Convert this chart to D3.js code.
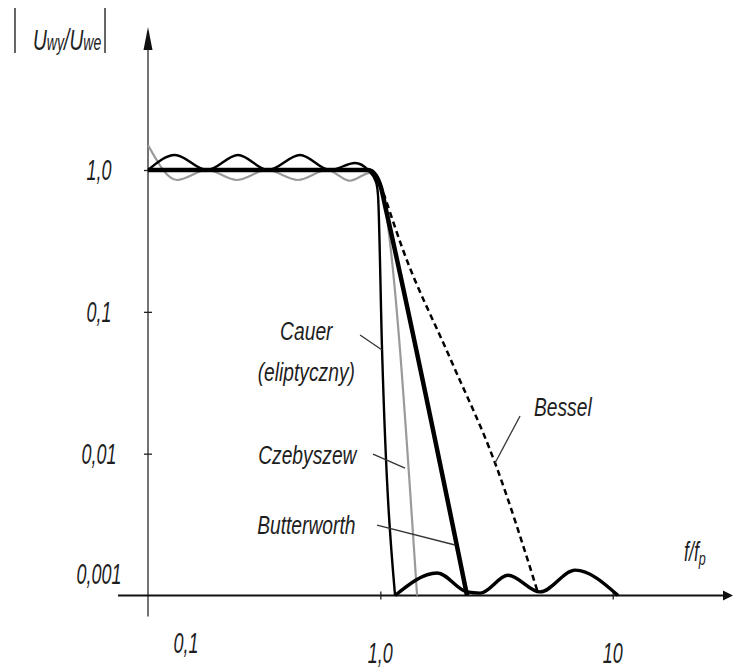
<!doctype html>
<html lang="pl">
  <head>
    <meta charset="UTF-8" />
    <title>Charakterystyki filtrów dolnoprzepustowych</title>
    <style>
      body { margin: 0; background: #fff; }
      #chart text {
        font-family: "Liberation Sans", Arial, sans-serif;
        font-style: italic;
        fill: #1e1e1e;
      }
    </style>
  </head>
  <body>
    <div id="chart"></div>

    <script src="https://cdn.jsdelivr.net/npm/d3@7"></script>
    <script>
      // axis ticks
      const xTicks = [0.1, 1, 10];
      const xTickLabels = ["0,1", "1,0", "10"];
      const yTicks = [1, 0.1, 0.01, 0.001];
      const yTickLabels = ["1,0", "0,1", "0,01", "0,001"];

      // curves as [f/fp, |Uwy/Uwe|]
      const butterworth = [[0.1, 1], [0.885, 1], [0.958, 0.907], [1.007, 0.747], [1.058, 0.522], [2.361, 0.001]];
      const bessel = [[0.1, 1], [0.903, 1], [0.977, 0.878], [1.027, 0.699], [1.252, 0.273], [1.995, 0.0472], [3.117, 0.00859], [4.774, 0.00104]];
      const czebyszew = [[0.1, 1.5], [0.1333, 0.85], [0.1795, 1], [0.2416, 0.85], [0.3253, 1], [0.4422, 0.85],
        [0.5897, 1], [0.7405, 0.84], [0.903, 0.955], [0.997, 0.823], [1.037, 0.614], [1.439, 0.001]];
      const cauerPass = [[0.1, 1], [0.1306, 1.276], [0.1795, 1], [0.2441, 1.276], [0.3286, 1], [0.4511, 1.276],
        [0.6074, 1], [0.7782, 1.12], [0.885, 1], [0.958, 0.823], [0.977, 0.666], [1.017, 0.0538], [1.157, 0.001]];
      const cauerStop = [[1.157, 0.001], [1.754, 0.00144], [2.361, 0.00106], [2.687, 0.00104], [3.546, 0.00139],
        [4.87, 0.00106], [6.89, 0.00151], [10.55, 0.001]];

      // annotation labels and leader lines (data coordinates)
      const labelNames = ["Cauer", "(eliptyczny)", "Czebyszew", "Butterworth", "Bessel"];
      const labelF = [0.48, 0.48, 0.485, 0.48, 6.1];
      const labelG = [0.0732, 0.0376, 0.00977, 0.00314, 0.0213];
      const leaders = [
        [[0.818, 0.0686], [1.017, 0.0538]],
        [[0.93, 0.00994], [1.277, 0.00791]],
        [[0.968, 0.00314], [2.097, 0.00227]],
        [[3.993, 0.01842], [3.117, 0.00859]]
      ];

      const width = 734, height = 671;
      const svg = d3.select("#chart").append("svg")
          .attr("width", width)
          .attr("height", height);

      const x = d3.scaleLog().domain([0.1, 10]).range([148, 612.7]);
      const y = d3.scaleLog().domain([0.001, 1]).range([595.5, 170]);
      const x0 = x(0.1), y0 = y(0.001);

      const line = d3.line()
          .x(d => x(d[0]))
          .y(d => y(d[1]))
          .curve(d3.curveMonotoneX);

      // axes with arrows
      svg.append("line")
          .attr("x1", x0).attr("x2", x0)
          .attr("y1", y0 + 21).attr("y2", 48)
          .attr("stroke", "#444").attr("stroke-width", 1.5);
      svg.append("path")
          .attr("d", `M${x0},27 L${x0 - 4.5},50 L${x0 + 4.5},50 Z`)
          .attr("fill", "#111");
      svg.append("line")
          .attr("x1", x0 - 30).attr("x2", width - 8)
          .attr("y1", y0).attr("y2", y0)
          .attr("stroke", "#111").attr("stroke-width", 2);
      svg.append("path")
          .attr("d", `M${width - 1},${y0} L${width - 11},${y0 - 5} L${width - 11},${y0 + 5} Z`)
          .attr("fill", "#111");

      // tick marks
      svg.append("g")
          .attr("transform", `translate(${x0 + 4},0)`)
          .call(d3.axisLeft(y).tickValues(yTicks.slice(0, 3)).tickSize(8).tickFormat(""))
          .call(g => g.select(".domain").remove())
          .selectAll("line").attr("stroke", "#222").attr("stroke-width", 1.3);
      svg.append("g")
          .attr("transform", `translate(0,${y0 - 4})`)
          .call(d3.axisBottom(x).tickValues(xTicks.slice(1)).tickSize(8).tickFormat(""))
          .call(g => g.select(".domain").remove())
          .selectAll("line").attr("stroke", "#222").attr("stroke-width", 1.3);

      // squeezed italic text helper
      const label = (px, py, txt, size, sx, anchor) => {
        const t = svg.append("g")
            .attr("transform", `translate(${px},${py}) scale(${sx},1)`)
            .append("text")
            .attr("text-anchor", anchor || "middle")
            .attr("dy", "0.35em")
            .attr("font-size", size)
            .text(txt);
        return t;
      };

      // tick labels
      yTicks.forEach((v, i) => {
        const py = v === 0.001 ? y(v) - 22 : y(v);
        label(99, py, yTickLabels[i], 29, 0.62);
      });
      xTicks.forEach((v, i) => {
        const px = i === 0 ? x(v) + 38 : x(v);
        const py = i === 0 ? y0 + 47 : y0 + 57;
        label(px, py, xTickLabels[i], 29, 0.62);
      });

      // curves
      svg.append("path").datum(czebyszew)
          .attr("d", line).attr("fill", "none")
          .attr("stroke", "#9a9a9a").attr("stroke-width", 2.2);
      svg.append("path").datum(butterworth)
          .attr("d", line).attr("fill", "none")
          .attr("stroke", "#000").attr("stroke-width", 4.5);
      svg.append("path").datum(bessel)
          .attr("d", line).attr("fill", "none")
          .attr("stroke", "#000").attr("stroke-width", 2.5)
          .attr("stroke-dasharray", "6,4");
      svg.append("path").datum(cauerPass)
          .attr("d", line).attr("fill", "none")
          .attr("stroke", "#000").attr("stroke-width", 2.4);
      svg.append("path").datum(cauerStop)
          .attr("d", line).attr("fill", "none")
          .attr("stroke", "#000").attr("stroke-width", 3.4);

      // leader lines
      leaders.forEach(l => {
        svg.append("line")
            .attr("x1", x(l[0][0])).attr("y1", y(l[0][1]))
            .attr("x2", x(l[1][0])).attr("y2", y(l[1][1]))
            .attr("stroke", "#333").attr("stroke-width", 1.3);
      });

      // curve names
      labelNames.forEach((n, i) => {
        label(x(labelF[i]), y(labelG[i]), n, 26, 0.74);
      });

      // axis titles
      svg.append("line").attr("x1", 15).attr("x2", 15).attr("y1", 8).attr("y2", 53)
          .attr("stroke", "#333").attr("stroke-width", 1.5);
      svg.append("line").attr("x1", 105).attr("x2", 105).attr("y1", 8).attr("y2", 53)
          .attr("stroke", "#333").attr("stroke-width", 1.5);
      const yTitle = svg.append("g")
          .attr("transform", "translate(33,50) scale(0.64,1)")
          .append("text").attr("font-size", 30);
      yTitle.append("tspan").text("U");
      yTitle.append("tspan").attr("font-size", 22).text("wy");
      yTitle.append("tspan").text("/U");
      yTitle.append("tspan").attr("font-size", 22).text("we");

      const xTitle = svg.append("g")
          .attr("transform", "translate(684,561) scale(0.66,1)")
          .append("text").attr("font-size", 27);
      xTitle.append("tspan").text("f/f");
      xTitle.append("tspan").attr("font-size", 19).attr("dy", 4).text("p");
    </script>
  </body>
</html>
